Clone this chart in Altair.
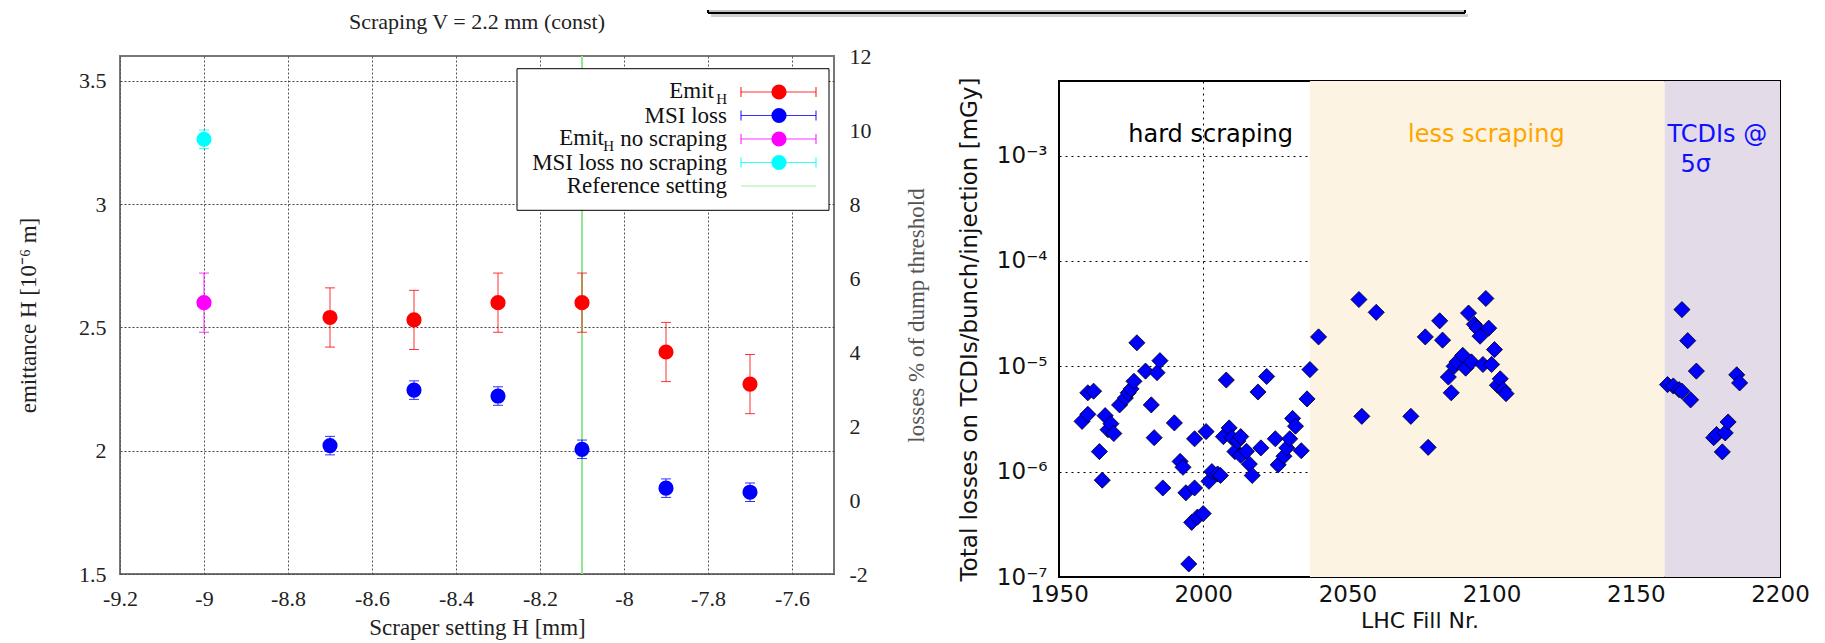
import altair as alt
import pandas as pd

# ---------------- Left panel: scraper scan ----------------
scraper_setting = [-8.7, -8.5, -8.3, -8.1, -7.9, -7.7]
emit_h = [2.54, 2.53, 2.60, 2.60, 2.40, 2.27]
emit_h_err = [0.12, 0.12, 0.12, 0.12, 0.12, 0.12]
msi_loss = [1.47, 2.97, 2.81, 1.37, 0.32, 0.21]
msi_loss_err = [0.25, 0.25, 0.25, 0.25, 0.25, 0.25]
no_scraping_setting = [-9.0]
emit_h_no_scraping = [2.60]
emit_h_no_scraping_err = [0.12]
msi_loss_no_scraping = [9.75]
msi_loss_no_scraping_err = [0.25]
reference_setting = [-8.1]

left_title = "Scraping V = 2.2 mm (const)"
left_x_ticks = [-9.2, -9.0, -8.8, -8.6, -8.4, -8.2, -8.0, -7.8, -7.6]
left_y_ticks = [1.5, 2.0, 2.5, 3.0, 3.5]
loss_pct_ticks = [-2, 0, 2, 4, 6, 8, 10, 12]

legend_labels = ["Emit_H", "MSI loss", "Emit_H no scraping", "MSI loss no scraping", "Reference setting"]
legend_colors = ["#ff0000", "#0000ff", "#ff00ff", "#00ffff", "#8fe88f"]

# ---------------- Right panel: TCDI losses ----------------
fill_nr = [1958, 1960, 1960, 1962, 1964, 1965, 1966, 1967, 1968, 1969,
           1971, 1973, 1974, 1975, 1976, 1977, 1980, 1982, 1983, 1984,
           1985, 1986, 1990, 1992, 1993, 1994, 1995, 1996, 1997, 1997,
           1998, 2000, 2001, 2002, 2003, 2005, 2006, 2007, 2008, 2009,
           2010, 2011, 2012, 2013, 2013, 2015, 2016, 2017, 2019, 2020,
           2022, 2025, 2026, 2028, 2029, 2030, 2031, 2032, 2034, 2036,
           2037, 2040,
           2054, 2055, 2060, 2072, 2077, 2078, 2082, 2083, 2085, 2086,
           2087, 2088, 2090, 2091, 2092, 2093, 2094, 2095, 2096, 2097,
           2098, 2099, 2100, 2101, 2102, 2103, 2104, 2105,
           2161, 2163, 2165, 2166, 2166, 2168, 2169, 2171, 2177, 2178,
           2180, 2181, 2182, 2185, 2186]
tcdi_loss = [3.0e-6, 3.5e-6, 5.6e-6, 5.8e-6, 1.55e-6, 8.3e-7, 3.4e-6, 2.5e-6, 2.85e-6, 2.3e-6,
             4.3e-6, 5.0e-6, 5.6e-6, 6.1e-6, 7.2e-6, 1.67e-5, 9.0e-6, 4.3e-6, 2.1e-6, 8.7e-6,
             1.13e-5, 7.0e-7, 2.9e-6, 1.25e-6, 1.1e-6, 6.3e-7, 1.33e-7, 3.3e-7, 7.0e-7, 2.05e-6,
             3.7e-7, 4.0e-7, 2.4e-6, 8.1e-7, 1.0e-6, 9.5e-7, 9.2e-7, 2.15e-6, 7.4e-6, 2.6e-6,
             2.1e-6, 1.55e-6, 1.95e-6, 2.15e-6, 1.43e-6, 1.56e-6, 1.18e-6, 9.2e-7, 5.7e-6, 1.68e-6,
             8.0e-6, 2.05e-6, 1.16e-6, 1.4e-6, 1.68e-6, 2.05e-6, 3.2e-6, 2.7e-6, 1.58e-6, 4.9e-6,
             9.3e-6, 1.9e-5,
             4.3e-5, 3.35e-6, 3.25e-5, 3.35e-6, 1.9e-5, 1.7e-6, 2.7e-5, 1.77e-5, 7.9e-6, 5.6e-6,
             1.0e-5, 1.1e-5, 1.27e-5, 9.6e-6, 3.2e-5, 1.1e-5, 2.5e-5, 2.3e-5, 1.93e-5, 1.04e-5,
             4.4e-5, 2.3e-5, 1.04e-5, 1.44e-5, 6.6e-6, 7.6e-6, 6.0e-6, 5.5e-6,
             6.7e-6, 6.5e-6, 6.0e-6, 5.8e-6, 3.45e-5, 1.75e-5, 4.8e-6, 9.0e-6, 2.1e-6, 2.25e-6,
             1.54e-6, 2.33e-6, 2.96e-6, 8.3e-6, 6.95e-6]

fill_ticks = [1950, 2000, 2050, 2100, 2150, 2200]
loss_ticks = [1e-7, 1e-6, 1e-5, 1e-4, 1e-3]
fill_range = [1950, 2200]
loss_range = [1e-7, 5.1e-3]

region_start = [2037, 2160]
region_end = [2160, 2200]
region_color = ["#fdf3e3", "#e3dce8"]

note_text = ["hard scraping", "less scraping", "TCDIs @", "5σ"]
note_fill = [1974, 2071, 2161, 2165.5]
note_loss = [1.58e-3, 1.58e-3, 1.58e-3, 8.2e-4]
note_color = ["#000000", "#ffa500", "#1010ff", "#1010ff"]

# ---------------- styling ----------------
SERIF = "Liberation Serif"
SANS = "DejaVu Sans"
W1, H1 = 714, 518
W2, H2 = 721, 496

xs = alt.Scale(domain=[-9.2, -7.5], nice=False, zero=False)
ysl = alt.Scale(domain=[1.5, 3.6], nice=False, zero=False)
ysr = alt.Scale(domain=[-2, 12], nice=False, zero=False)

x_axis = alt.Axis(values=left_x_ticks, labelExpr="'' + round(datum.value*10)/10",
                  labelFont=SERIF, labelFontSize=22, labelColor="#222", labelPadding=14,
                  labelFlush=False, labelOverlap=False, ticks=False, domain=False,
                  grid=True, gridColor="#555", gridDash=[2, 2], gridWidth=1,
                  title="Scraper setting H [mm]", titleFont=SERIF, titleFontSize=23,
                  titleFontWeight="normal", titleColor="#222", titlePadding=7)
yl_axis = alt.Axis(values=left_y_ticks, labelExpr="'' + datum.value",
                   labelFont=SERIF, labelFontSize=22, labelColor="#222", labelPadding=14,
                   labelOverlap=False, ticks=False, domain=False,
                   grid=True, gridColor="#444", gridDash=[2, 2], gridWidth=1.2,
                   title="emittance H [10⁻⁶ m]", titleFont=SERIF, titleFontSize=23,
                   titleFontWeight="normal", titleColor="#222", titlePadding=38, titleLimit=1000)
yr_axis = alt.Axis(values=loss_pct_ticks, labelExpr="'' + datum.value", orient="right",
                   labelFont=SERIF, labelFontSize=22, labelColor="#222", labelPadding=15,
                   labelOverlap=False, ticks=False, domain=False, grid=False,
                   title="losses % of dump threshold", titleFont=SERIF, titleFontSize=23,
                   titleFontWeight="normal", titleColor="#555", titlePadding=34,
                   titleAngle=270, titleBaseline="top", titleLimit=1000)


def X(field):
    return alt.X(field, type="quantitative", scale=xs, axis=x_axis)


emit_df = pd.DataFrame({
    "x": scraper_setting + no_scraping_setting,
    "y": emit_h + emit_h_no_scraping,
    "err": emit_h_err + emit_h_no_scraping_err,
    "c": [legend_colors[0]] * len(scraper_setting) + [legend_colors[2]],
})
emit_df["lo"] = emit_df["y"] - emit_df["err"]
emit_df["hi"] = emit_df["y"] + emit_df["err"]

msi_df = pd.DataFrame({
    "x": scraper_setting + no_scraping_setting,
    "y": msi_loss + msi_loss_no_scraping,
    "err": msi_loss_err + msi_loss_no_scraping_err,
    "c": [legend_colors[1]] * len(scraper_setting) + [legend_colors[3]],
})
msi_df["lo"] = msi_df["y"] - msi_df["err"]
msi_df["hi"] = msi_df["y"] + msi_df["err"]

raw_color = alt.Color("c:N", scale=None)

one = pd.DataFrame({"a": [0]})

# invisible anchor that fixes the left edge of the whole figure
anchor = alt.Chart(one).mark_rule(opacity=0).encode(
    x=alt.value(-111), x2=alt.value(-110), y=alt.value(0))

# grey banner at the very top (cut by the page edge)
banner_fill = alt.Chart(one).mark_rect(fill="#c0c0c0").encode(
    x=alt.value(588), x2=alt.value(1345), y=alt.value(-46), y2=alt.value(-43))
banner_bottom = alt.Chart(one).mark_rule(color="black", strokeWidth=2).encode(
    x=alt.value(588), x2=alt.value(1345), y=alt.value(-43))
banner_shadow = alt.Chart(one).mark_rule(color="#999", strokeWidth=3, opacity=0.45).encode(
    x=alt.value(591), x2=alt.value(1348), y=alt.value(-40.5))
banner_sides = alt.Chart(pd.DataFrame({"bx": [588, 1345]})).mark_rule(color="black", strokeWidth=2).encode(
    x=alt.X("bx:Q", scale=None), y=alt.value(-46), y2=alt.value(-43))

# panel title as a text mark
title_mark = alt.Chart(pd.DataFrame({"t": [left_title]})).mark_text(
    font=SERIF, fontSize=22, color="#222", align="center", baseline="middle").encode(
    x=alt.value(W1 / 2), y=alt.value(-34), text="t:N")

green = alt.Chart(pd.DataFrame({"x": reference_setting})).mark_rule(
    color=legend_colors[4], strokeWidth=2).encode(x=X("x"))

eb = alt.Chart(emit_df)
emit_bar = eb.mark_rule(strokeWidth=1, opacity=0.8).encode(
    x=X("x"), y=alt.Y("lo:Q", scale=ysl, axis=yl_axis), y2="hi:Q", color=raw_color)
emit_cap_lo = eb.mark_tick(orient="horizontal", size=10, thickness=1, opacity=0.8).encode(
    x=X("x"), y=alt.Y("lo:Q", scale=ysl, axis=yl_axis), color=raw_color)
emit_cap_hi = eb.mark_tick(orient="horizontal", size=10, thickness=1, opacity=0.8).encode(
    x=X("x"), y=alt.Y("hi:Q", scale=ysl, axis=yl_axis), color=raw_color)
emit_pt = eb.mark_circle(size=230, opacity=1).encode(
    x=X("x"), y=alt.Y("y:Q", scale=ysl, axis=yl_axis), color=raw_color)

mb = alt.Chart(msi_df)
msi_bar = mb.mark_rule(strokeWidth=1, opacity=0.8).encode(
    x=X("x"), y=alt.Y("lo:Q", scale=ysr, axis=yr_axis), y2="hi:Q", color=raw_color)
msi_cap_lo = mb.mark_tick(orient="horizontal", size=10, thickness=1, opacity=0.8).encode(
    x=X("x"), y=alt.Y("lo:Q", scale=ysr, axis=yr_axis), color=raw_color)
msi_cap_hi = mb.mark_tick(orient="horizontal", size=10, thickness=1, opacity=0.8).encode(
    x=X("x"), y=alt.Y("hi:Q", scale=ysr, axis=yr_axis), color=raw_color)
msi_pt = mb.mark_circle(size=230, opacity=1).encode(
    x=X("x"), y=alt.Y("y:Q", scale=ysr, axis=yr_axis), color=raw_color)

# ---- legend box (pixel layout) ----
LEG_X0, LEG_X1, LEG_Y0, LEG_Y1 = 397, 709, 12.7, 154.3
ROW0, ROWH = 36, 23.5
TXT_R = 607
SYM_X0, SYM_X1, SYM_XC = 621, 696, 659

leg_rows = pd.DataFrame({"label": legend_labels, "c": legend_colors,
                         "i": list(range(len(legend_labels)))})
leg_rows["py"] = ROW0 + ROWH * leg_rows["i"]
leg_err_rows = leg_rows[leg_rows["i"] < 4]

leg_caps = pd.concat([leg_err_rows.assign(px=SYM_X0), leg_err_rows.assign(px=SYM_X1)])
leg_caps["y1"] = leg_caps["py"] - 5
leg_caps["y2"] = leg_caps["py"] + 5

# text pieces (main text + subscript H)
pieces = pd.DataFrame({
    "t": ["Emit", "H", "MSI loss", "Emit", "H", "no scraping", "MSI loss no scraping", "Reference setting"],
    "row": [0, 0, 1, 2, 2, 2, 3, 4],
    "dx": [-13, 0, 0, -123, -113, 0, 0, 0],
    "dy": [-1, 7, 0, -1, 7, 0, 0, 0],
    "fs": [23, 15, 23, 23, 15, 23, 23, 23],
})
pieces["tx"] = TXT_R + pieces["dx"]
pieces["ty"] = ROW0 + ROWH * pieces["row"] + pieces["dy"]

leg_box = alt.Chart(one).mark_rect(fill="white", stroke="black", strokeWidth=1).encode(
    x=alt.value(LEG_X0), x2=alt.value(LEG_X1), y=alt.value(LEG_Y0), y2=alt.value(LEG_Y1))
leg_line = alt.Chart(leg_rows).mark_rule(strokeWidth=1.2, opacity=0.8).encode(
    x=alt.value(SYM_X0), x2=alt.value(SYM_X1), y=alt.Y("py:Q", scale=None), color=raw_color)
leg_cap = alt.Chart(leg_caps).mark_rule(strokeWidth=1.2, opacity=0.8).encode(
    x=alt.X("px:Q", scale=None), y=alt.Y("y1:Q", scale=None), y2="y2:Q", color=raw_color)
leg_dot = alt.Chart(leg_err_rows).mark_circle(size=230, opacity=1).encode(
    x=alt.value(SYM_XC), y=alt.Y("py:Q", scale=None), color=raw_color)
leg_text = alt.Chart(pieces).mark_text(align="right", baseline="middle", font=SERIF, color="#111").encode(
    x=alt.X("tx:Q", scale=None), y=alt.Y("ty:Q", scale=None), text="t:N",
    size=alt.Size("fs:Q", scale=None))

left_group = alt.layer(anchor, banner_fill, banner_shadow, banner_bottom, banner_sides, title_mark,
                       green, emit_bar, emit_cap_lo, emit_cap_hi, emit_pt,
                       leg_box, leg_line, leg_cap, leg_dot, leg_text)
right_group = alt.layer(msi_bar, msi_cap_lo, msi_cap_hi, msi_pt)

left = alt.layer(left_group, right_group).resolve_scale(y="independent").properties(
    width=W1, height=H1,
    view=alt.ViewBackground(stroke="#777", strokeWidth=2),
)

# ---------------- right panel ----------------
rx = alt.Scale(domain=fill_range, nice=False, zero=False)
ry = alt.Scale(type="log", domain=loss_range, nice=False)
rx_axis = alt.Axis(values=fill_ticks, format="d", labelFont=SANS, labelFontSize=23,
                   labelColor="#111", labelPadding=6, labelFlush=False, labelOverlap=False,
                   ticks=False, domain=False, grid=True, gridColor="#000",
                   gridDash=[2, 4], gridWidth=1,
                   title="LHC Fill Nr.", titleFont=SANS, titleFontSize=22,
                   titleFontWeight="normal", titleColor="#111", titlePadding=4)
ry_axis = alt.Axis(values=loss_ticks,
                   labelExpr="'10⁻' + ['⁰','¹','²','³','⁴','⁵','⁶','⁷','⁸','⁹'][round(-log(datum.value)/LN10)]",
                   labelFont=SANS, labelFontSize=23, labelColor="#111", labelPadding=12,
                   labelOverlap=False, ticks=False, domain=False, grid=True, gridColor="#000",
                   gridDash=[2, 4], gridWidth=1,
                   title="Total losses on TCDIs/bunch/injection [mGy]", titleFont=SANS,
                   titleFontSize=23, titleFontWeight="normal", titleColor="#111",
                   titlePadding=15, titleLimit=1000)

reg_df = pd.DataFrame({"start": region_start, "end": region_end, "c": region_color})
shade = alt.Chart(reg_df).mark_rect(opacity=1).encode(
    x=alt.X("start:Q", scale=rx, axis=rx_axis), x2="end:Q", color=raw_color)

pts_df = pd.DataFrame({"fill": fill_nr, "loss": tcdi_loss})
pts = alt.Chart(pts_df).mark_point(shape="diamond", size=260, fill="#0000ff", stroke="#000",
                                   strokeWidth=0.8, fillOpacity=1, opacity=1).encode(
    x=alt.X("fill:Q", scale=rx, axis=rx_axis), y=alt.Y("loss:Q", scale=ry, axis=ry_axis))

notes_df = pd.DataFrame({"t": note_text, "x": note_fill, "y": note_loss, "c": note_color})
notes = alt.Chart(notes_df).mark_text(align="left", baseline="middle", font=SANS, fontSize=24).encode(
    x=alt.X("x:Q", scale=rx, axis=rx_axis), y=alt.Y("y:Q", scale=ry, axis=ry_axis),
    text="t:N", color=raw_color)

right_plot = alt.layer(shade, pts, notes).properties(
    width=W2, height=H2, view=alt.ViewBackground(stroke="#000", strokeWidth=2))

spacer = alt.Chart(one).mark_point(opacity=0).encode(x=alt.value(0), y=alt.value(0)).properties(
    width=W2, height=1, view=alt.ViewBackground(stroke="transparent"))

right_col = alt.vconcat(spacer, right_plot, spacing=24, bounds="flush")

chart = alt.hconcat(left, right_col, spacing=225, bounds="flush").properties(
    padding=0, background="white")

chart.save("out.html", embed_options={"renderer": "svg", "actions": False})
